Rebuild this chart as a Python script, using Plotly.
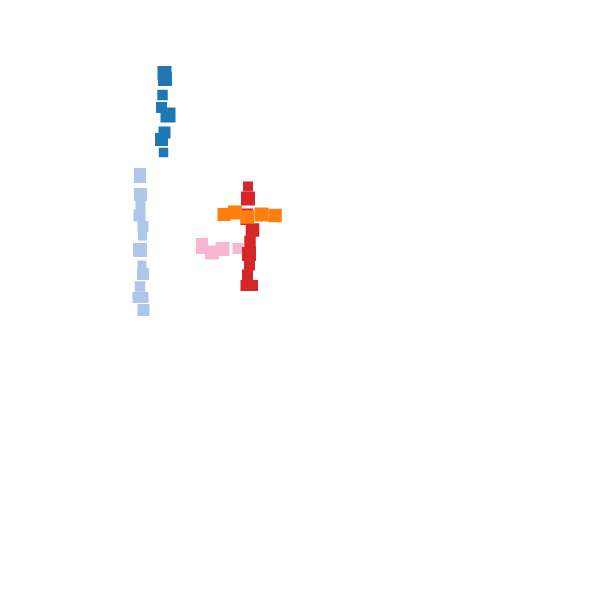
import plotly.graph_objects as go

# Series values (x, y, size)
blue_x = [164.5, 165, 162.5, 161.5, 168, 164.5, 161.5, 163.5]
blue_y = [73, 79, 95, 107.5, 115, 132.5, 139.5, 152.5]
blue_s = [14, 14, 10.5, 11, 15, 12, 13, 9.5]

lblue_x = [140, 140, 140.5, 140.5, 139.5, 143, 142.5, 140, 142, 143, 140, 138, 143, 143.5]
lblue_y = [174, 177, 194.5, 205.5, 215.5, 226.5, 236, 250, 265, 274, 286.5, 297.5, 297.5, 310]
lblue_s = [12, 12, 13, 10, 12, 11, 9, 14, 9, 12, 10.5, 11, 11, 12]

pink_x = [202, 202, 212, 222.5, 238]
pink_y = [244, 248, 252.5, 249, 248.5]
pink_s = [12, 12, 14, 14, 11]

red_x = [248, 248, 247.5, 247, 252.5, 250, 249, 249.5, 247.5, 246, 252.5]
red_y = [186.5, 198.5, 214, 218.5, 230, 241.5, 254, 265, 275, 285.5, 285.5]
red_s = [10, 14, 11, 13, 13.5, 11.5, 14, 11, 11, 11, 11]

orange_x = [224, 235, 247.5, 261.5, 275]
orange_y = [214.5, 212.5, 217, 214.5, 215.5]
orange_s = [13, 14, 13.5, 14, 13.5]

series = [
    ("blue", blue_x, blue_y, blue_s, "#1f77b4"),
    ("lightblue", lblue_x, lblue_y, lblue_s, "#aec7e8"),
    ("pink", pink_x, pink_y, pink_s, "#f7b6d2"),
    ("red", red_x, red_y, red_s, "#d62728"),
    ("orange", orange_x, orange_y, orange_s, "#ff7f0e"),
]

fig = go.Figure()
for name, xs, ys, ss, col in series:
    fig.add_trace(go.Scatter(
        x=xs, y=ys, mode="markers", name=name,
        marker=dict(symbol="square", size=ss, color=col, line=dict(width=0), opacity=1),
        showlegend=False,
    ))

fig.update_layout(
    width=600, height=600,
    margin=dict(l=0, r=0, t=0, b=0),
    paper_bgcolor="white", plot_bgcolor="white",
    xaxis=dict(range=[0, 600], visible=False),
    yaxis=dict(range=[600, 0], visible=False),
)
fig.write_html("out.html")
